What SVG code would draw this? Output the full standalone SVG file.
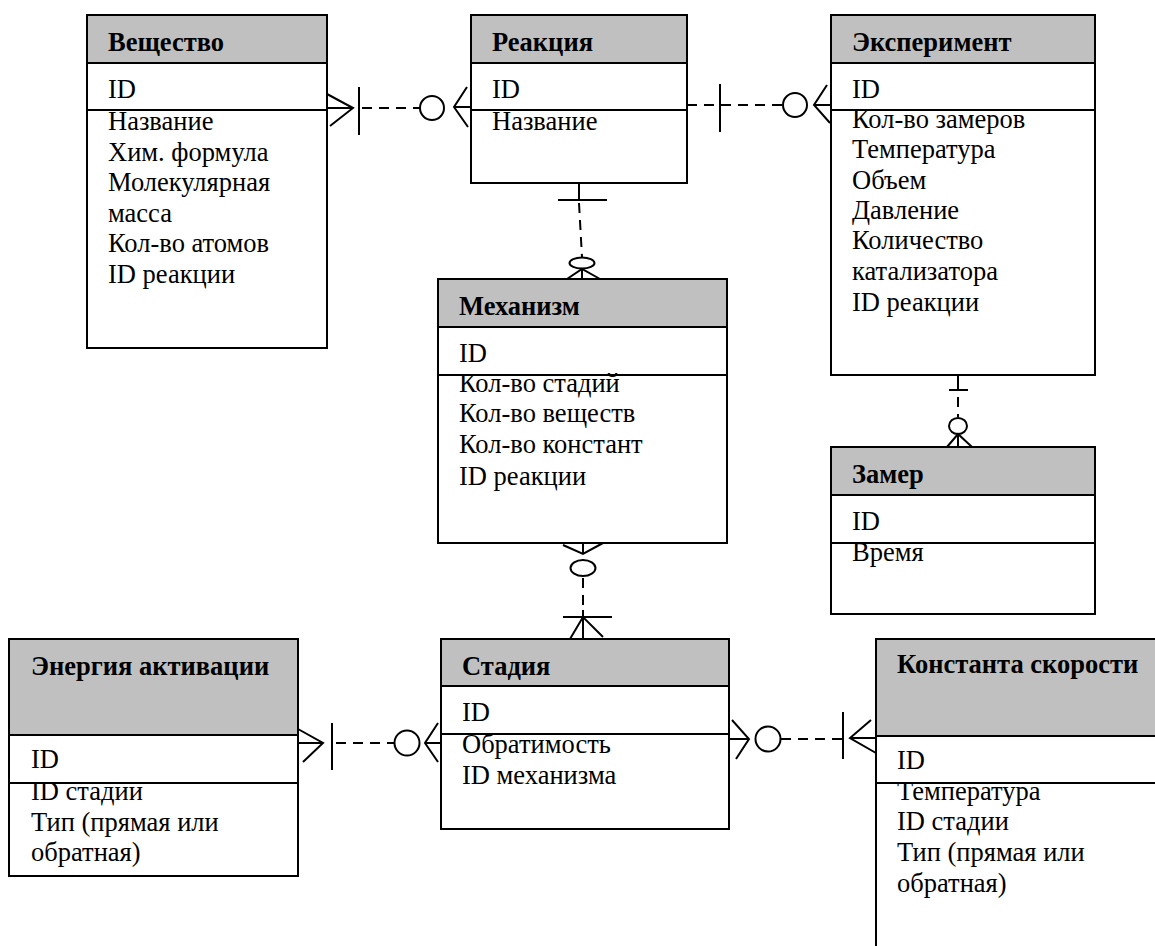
<svg xmlns="http://www.w3.org/2000/svg" width="1155" height="946" viewBox="0 0 1155 946">
<style>
  .box { fill: #ffffff; stroke: #000; stroke-width: 2; }
  .hdr { fill: #c0c0c0; stroke: #000; stroke-width: 2; }
  .sep { stroke: #000; stroke-width: 2; }
  .ttl { font-family: "Liberation Serif", "DejaVu Serif", serif; font-weight: bold; font-size: 26.5px; fill: #000; }
  .txt { font-family: "Liberation Serif", "DejaVu Serif", serif; font-size: 26.5px; fill: #000; }
  .ln { stroke: #000; stroke-width: 2; fill: none; }
  .dash { stroke: #000; stroke-width: 2; fill: none; stroke-dasharray: 10 7; }
</style>
<rect width="1155" height="946" fill="#ffffff"/>

<g id="veshchestvo">
  <rect class="box" x="87" y="15" width="240" height="333"/>
  <rect class="hdr" x="87" y="15" width="240" height="48"/>
  <line class="sep" x1="87" y1="110" x2="327" y2="110"/>
  <text class="ttl" x="108" y="51">Вещество</text>
  <text class="txt" x="108" y="98">ID</text>
  <text class="txt" x="108" y="130">Название</text>
  <text class="txt" x="108" y="161">Хим. формула</text>
  <text class="txt" x="108" y="191">Молекулярная</text>
  <text class="txt" x="108" y="222">масса</text>
  <text class="txt" x="108" y="252">Кол-во атомов</text>
  <text class="txt" x="108" y="283">ID реакции</text>
</g>

<g id="reaktsiya">
  <rect class="box" x="471" y="15" width="216" height="168"/>
  <rect class="hdr" x="471" y="15" width="216" height="48"/>
  <line class="sep" x1="471" y1="110" x2="687" y2="110"/>
  <text class="ttl" x="492" y="51">Реакция</text>
  <text class="txt" x="492" y="98">ID</text>
  <text class="txt" x="492" y="130">Название</text>
</g>

<g id="eksperiment">
  <rect class="box" x="831" y="15" width="264" height="360"/>
  <rect class="hdr" x="831" y="15" width="264" height="48"/>
  <line class="sep" x1="831" y1="110" x2="1095" y2="110"/>
  <text class="ttl" x="852" y="51">Эксперимент</text>
  <text class="txt" x="852" y="98">ID</text>
  <text class="txt" x="852" y="128">Кол-во замеров</text>
  <text class="txt" x="852" y="158">Температура</text>
  <text class="txt" x="852" y="189">Объем</text>
  <text class="txt" x="852" y="219">Давление</text>
  <text class="txt" x="852" y="249">Количество</text>
  <text class="txt" x="852" y="280">катализатора</text>
  <text class="txt" x="852" y="311">ID реакции</text>
</g>

<g id="mekhanizm">
  <rect class="box" x="438" y="279" width="289" height="264"/>
  <rect class="hdr" x="438" y="279" width="289" height="48"/>
  <line class="sep" x1="438" y1="375" x2="727" y2="375"/>
  <text class="ttl" x="459" y="315">Механизм</text>
  <text class="txt" x="459" y="362">ID</text>
  <text class="txt" x="459" y="392">Кол-во стадий</text>
  <text class="txt" x="459" y="422">Кол-во веществ</text>
  <text class="txt" x="459" y="453">Кол-во констант</text>
  <text class="txt" x="459" y="485">ID реакции</text>
</g>

<g id="zamer">
  <rect class="box" x="831" y="447" width="264" height="167"/>
  <rect class="hdr" x="831" y="447" width="264" height="48"/>
  <line class="sep" x1="831" y1="543" x2="1095" y2="543"/>
  <text class="ttl" x="852" y="483">Замер</text>
  <text class="txt" x="852" y="530">ID</text>
  <text class="txt" x="852" y="561">Время</text>
</g>

<g id="energiya-aktivatsii">
  <rect class="box" x="9" y="639" width="289" height="237"/>
  <rect class="hdr" x="9" y="639" width="289" height="96"/>
  <line class="sep" x1="9" y1="783" x2="298" y2="783"/>
  <text class="ttl" x="31" y="675">Энергия активации</text>
  <text class="txt" x="31" y="768">ID</text>
  <text class="txt" x="31" y="800">ID стадии</text>
  <text class="txt" x="31" y="831">Тип (прямая или</text>
  <text class="txt" x="31" y="861">обратная)</text>
</g>

<g id="stadiya">
  <rect class="box" x="441" y="639" width="288" height="190"/>
  <rect class="hdr" x="441" y="639" width="288" height="47"/>
  <line class="sep" x1="441" y1="734" x2="729" y2="734"/>
  <text class="ttl" x="462" y="675">Стадия</text>
  <text class="txt" x="462" y="721">ID</text>
  <text class="txt" x="462" y="753">Обратимость</text>
  <text class="txt" x="462" y="784">ID механизма</text>
</g>

<g id="konstanta-skorosti">
  <rect class="box" x="876" y="639" width="290" height="320"/>
  <rect class="hdr" x="876" y="639" width="290" height="97"/>
  <line class="sep" x1="876" y1="783" x2="1166" y2="783"/>
  <text class="ttl" x="897" y="673">Константа скорости</text>
  <text class="txt" x="897" y="769">ID</text>
  <text class="txt" x="897" y="800">Температура</text>
  <text class="txt" x="897" y="830">ID стадии</text>
  <text class="txt" x="897" y="861">Тип (прямая или</text>
  <text class="txt" x="897" y="892">обратная)</text>
</g>

<g id="connectors">
  <!-- Вещество – Реакция -->
  <polyline class="ln" points="327,94 353,108 330,126"/>
  <line class="ln" x1="327" y1="108" x2="353" y2="108"/>
  <line class="ln" x1="359" y1="87" x2="359" y2="135"/>
  <line class="dash" x1="362" y1="108" x2="420" y2="108"/>
  <circle class="ln" cx="432" cy="108" r="12"/>
  <polyline class="ln" points="467,87 454,107 468,127"/>
  <line class="ln" x1="454" y1="107" x2="471" y2="107"/>

  <!-- Реакция – Эксперимент -->
  <line class="dash" x1="687" y1="105" x2="783" y2="105"/>
  <line class="ln" x1="720" y1="84" x2="720" y2="132"/>
  <circle class="ln" cx="795" cy="105" r="12"/>
  <polyline class="ln" points="827,85 814,105 830,123"/>
  <line class="ln" x1="814" y1="105" x2="831" y2="105"/>

  <!-- Реакция – Механизм -->
  <line class="ln" x1="579" y1="183" x2="579" y2="200"/>
  <line class="ln" x1="558" y1="200" x2="607" y2="200"/>
  <line class="dash" x1="579" y1="203" x2="582" y2="257"/>
  <ellipse class="ln" cx="582" cy="263" rx="12.5" ry="5.5"/>
  <polyline class="ln" points="567,279 582,269 600,279"/>
  <line class="ln" x1="582" y1="269" x2="582" y2="279"/>

  <!-- Эксперимент – Замер -->
  <line class="ln" x1="958" y1="375" x2="958" y2="390"/>
  <line class="ln" x1="949" y1="390" x2="968" y2="390"/>
  <line class="dash" x1="958" y1="397" x2="958" y2="417"/>
  <ellipse class="ln" cx="958" cy="426" rx="9" ry="8"/>
  <polyline class="ln" points="947,447 958,434 972,447"/>
  <line class="ln" x1="958" y1="434" x2="958" y2="447"/>

  <!-- Механизм – Стадия -->
  <polyline class="ln" points="563,545 583,554 603,543"/>
  <line class="ln" x1="583" y1="543" x2="583" y2="554"/>
  <ellipse class="ln" cx="583" cy="568" rx="12.5" ry="8"/>
  <line class="dash" x1="583" y1="578" x2="583" y2="612"/>
  <line class="ln" x1="563" y1="617" x2="612" y2="617"/>
  <polyline class="ln" points="570,639 583,617 603,637"/>
  <line class="ln" x1="583" y1="610" x2="583" y2="639"/>

  <!-- Энергия активации – Стадия -->
  <polyline class="ln" points="298,729 323,743 303,762"/>
  <line class="ln" x1="298" y1="743" x2="323" y2="743"/>
  <line class="ln" x1="332" y1="723" x2="332" y2="770"/>
  <line class="dash" x1="336" y1="743" x2="395" y2="743"/>
  <circle class="ln" cx="407" cy="743" r="12.5"/>
  <polyline class="ln" points="438,723 425,743 438,762"/>
  <line class="ln" x1="425" y1="743" x2="441" y2="743"/>

  <!-- Стадия – Константа скорости -->
  <polyline class="ln" points="732,720 749,739 736,759"/>
  <line class="ln" x1="729" y1="739" x2="749" y2="739"/>
  <circle class="ln" cx="768" cy="739" r="12.5"/>
  <line class="dash" x1="781" y1="739" x2="843" y2="739"/>
  <line class="ln" x1="843" y1="712" x2="843" y2="759"/>
  <polyline class="ln" points="871,720 850,738 876,753"/>
  <line class="ln" x1="850" y1="738" x2="876" y2="738"/>
</g>
</svg>
